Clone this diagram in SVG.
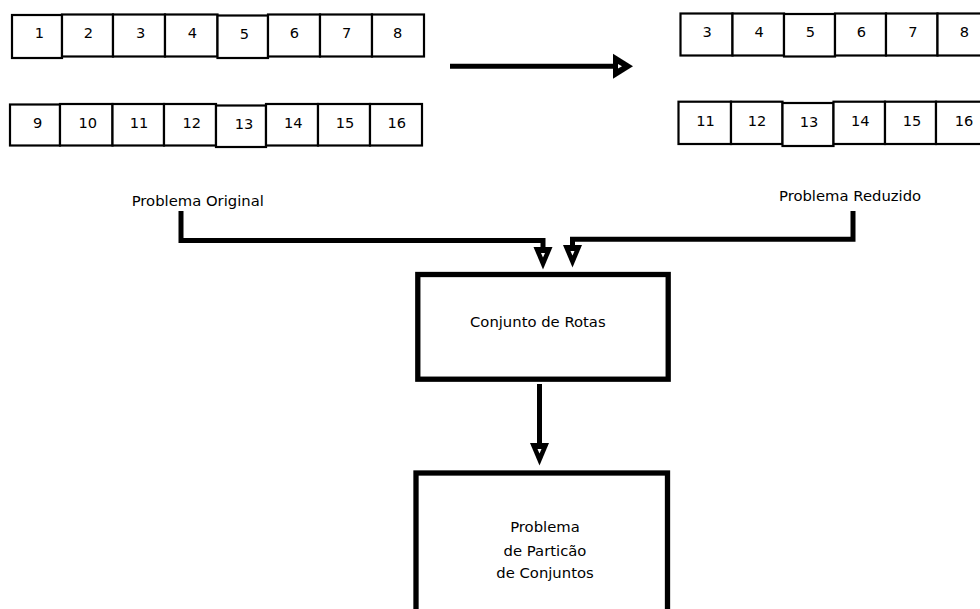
<svg xmlns="http://www.w3.org/2000/svg" width="980" height="609" viewBox="0 0 980 609">
<style>
.cell{fill:#fff;stroke:#000;stroke-width:2.2}
.num{font-family:"DejaVu Sans",sans-serif;font-size:14.6px;fill:#000;text-anchor:middle}
.lbl{font-family:"DejaVu Sans",sans-serif;font-size:14.8px;fill:#000}
.box{fill:#fff;stroke:#000;stroke-width:5.3}
.conn{fill:none;stroke:#000;stroke-width:5;stroke-linejoin:miter;stroke-linecap:butt}
</style>
<defs>
<marker id="ahBig" markerUnits="userSpaceOnUse" markerWidth="30" markerHeight="30" refX="0" refY="0" orient="auto" overflow="visible">
<path d="M0,-12.5 L20,0 L0,12.5 Z" fill="#000"/>
<path d="M5,-2.2 L9,0 L5,2.2 Z" fill="#fff"/>
</marker>
<marker id="ahSmall" markerUnits="userSpaceOnUse" markerWidth="30" markerHeight="30" refX="0" refY="0" orient="auto" overflow="visible">
<path d="M0,-9.5 L22.5,0 L0,9.5 Z" fill="#000"/>
<path d="M6,-2 L10.5,0 L6,2 Z" fill="#fff"/>
</marker>
</defs>
<rect width="980" height="609" fill="#fff"/>

<g id="orig-row1">
<g id="o1"><rect class="cell" x="12" y="15" width="50" height="43"/><text class="num" x="39.3" y="38.3">1</text></g>
<g id="o2"><rect class="cell" x="62" y="14.5" width="51" height="42"/><text class="num" x="88.3" y="38.3">2</text></g>
<g id="o3"><rect class="cell" x="113" y="14.5" width="52" height="42"/><text class="num" x="140.7" y="38.3">3</text></g>
<g id="o4"><rect class="cell" x="165" y="14.5" width="52.5" height="42"/><text class="num" x="192.3" y="38.3">4</text></g>
<g id="o5"><rect class="cell" x="217.5" y="15.5" width="50.5" height="42.5"/><text class="num" x="244.3" y="39">5</text></g>
<g id="o6"><rect class="cell" x="268" y="14.5" width="52" height="42"/><text class="num" x="294.3" y="38.3">6</text></g>
<g id="o7"><rect class="cell" x="320" y="14.5" width="52" height="42"/><text class="num" x="346.7" y="38.3">7</text></g>
<g id="o8"><rect class="cell" x="372" y="14.5" width="52" height="42"/><text class="num" x="397.7" y="38.3">8</text></g>
</g>

<g id="orig-row2">
<g id="o9"><rect class="cell" x="10" y="104.5" width="50" height="41"/><text class="num" x="37.7" y="127.7">9</text></g>
<g id="o10"><rect class="cell" x="60" y="104" width="52.5" height="41.5"/><text class="num" x="87.7" y="127.7">10</text></g>
<g id="o11"><rect class="cell" x="112.5" y="104" width="51.5" height="41.5"/><text class="num" x="139" y="127.7">11</text></g>
<g id="o12"><rect class="cell" x="164" y="104" width="52" height="41.5"/><text class="num" x="191.7" y="127.7">12</text></g>
<g id="o13"><rect class="cell" x="216" y="105.5" width="50" height="41.5"/><text class="num" x="244" y="128.7">13</text></g>
<g id="o14"><rect class="cell" x="266" y="104" width="52" height="41.5"/><text class="num" x="293.3" y="127.7">14</text></g>
<g id="o15"><rect class="cell" x="318" y="104" width="52" height="41.5"/><text class="num" x="345" y="127.7">15</text></g>
<g id="o16"><rect class="cell" x="370" y="104" width="52" height="41.5"/><text class="num" x="396.7" y="127.7">16</text></g>
</g>

<g id="red-row1">
<g id="r3"><rect class="cell" x="680.5" y="13.5" width="52" height="42"/><text class="num" x="707.2" y="36.7">3</text></g>
<g id="r4"><rect class="cell" x="732.5" y="13.5" width="51.5" height="42"/><text class="num" x="759.2" y="36.7">4</text></g>
<g id="r5"><rect class="cell" x="784" y="14" width="51" height="42.5"/><text class="num" x="810.4" y="37.2">5</text></g>
<g id="r6"><rect class="cell" x="835" y="13.5" width="51" height="42"/><text class="num" x="861.3" y="36.7">6</text></g>
<g id="r7"><rect class="cell" x="886" y="13.5" width="51.5" height="42"/><text class="num" x="912.9" y="36.7">7</text></g>
<g id="r8"><rect class="cell" x="937.5" y="13.5" width="52" height="42"/><text class="num" x="964.3" y="36.7">8</text></g>
</g>

<g id="red-row2">
<g id="r11"><rect class="cell" x="678.5" y="101.7" width="52.5" height="42.3"/><text class="num" x="705.5" y="125.7">11</text></g>
<g id="r12"><rect class="cell" x="731" y="101.7" width="51.5" height="42.3"/><text class="num" x="757.1" y="125.7">12</text></g>
<g id="r13"><rect class="cell" x="782.5" y="103" width="51" height="43"/><text class="num" x="809" y="127">13</text></g>
<g id="r14"><rect class="cell" x="833.5" y="101.7" width="51.5" height="42.3"/><text class="num" x="860.3" y="125.7">14</text></g>
<g id="r15"><rect class="cell" x="885" y="101.7" width="51" height="42.3"/><text class="num" x="912" y="125.7">15</text></g>
<g id="r16"><rect class="cell" x="936" y="101.7" width="52" height="42.3"/><text class="num" x="964" y="125.7">16</text></g>
</g>

<g id="label-original"><text class="lbl" x="131.7" y="205.7">Problema Original</text></g>
<g id="label-reduzido"><text class="lbl" x="779" y="201">Problema Reduzido</text></g>

<g id="rotas">
<rect class="box" x="417.8" y="274.5" width="250.4" height="104.7"/>
<text class="lbl" x="470" y="326.7">Conjunto de Rotas</text>
</g>

<g id="particao">
<rect class="box" x="416" y="473" width="251.5" height="200"/>
<text class="lbl" text-anchor="middle" x="545" y="532.3">Problema</text>
<text class="lbl" text-anchor="middle" x="545" y="555.5">de Particão</text>
<text class="lbl" text-anchor="middle" x="545" y="577.7">de Conjuntos</text>
</g>

<g id="connectors">
<path class="conn" d="M450,66.2 H613" stroke-width="5.5" marker-end="url(#ahBig)"/>
<path class="conn" d="M181,211 V240.5 H543 V247" marker-end="url(#ahSmall)"/>
<path class="conn" d="M853,211 V239.3 H572.5 V245" marker-end="url(#ahSmall)"/>
<path class="conn" d="M539.5,384 V443" stroke-width="4.6" marker-end="url(#ahSmall)"/>
</g>
</svg>
